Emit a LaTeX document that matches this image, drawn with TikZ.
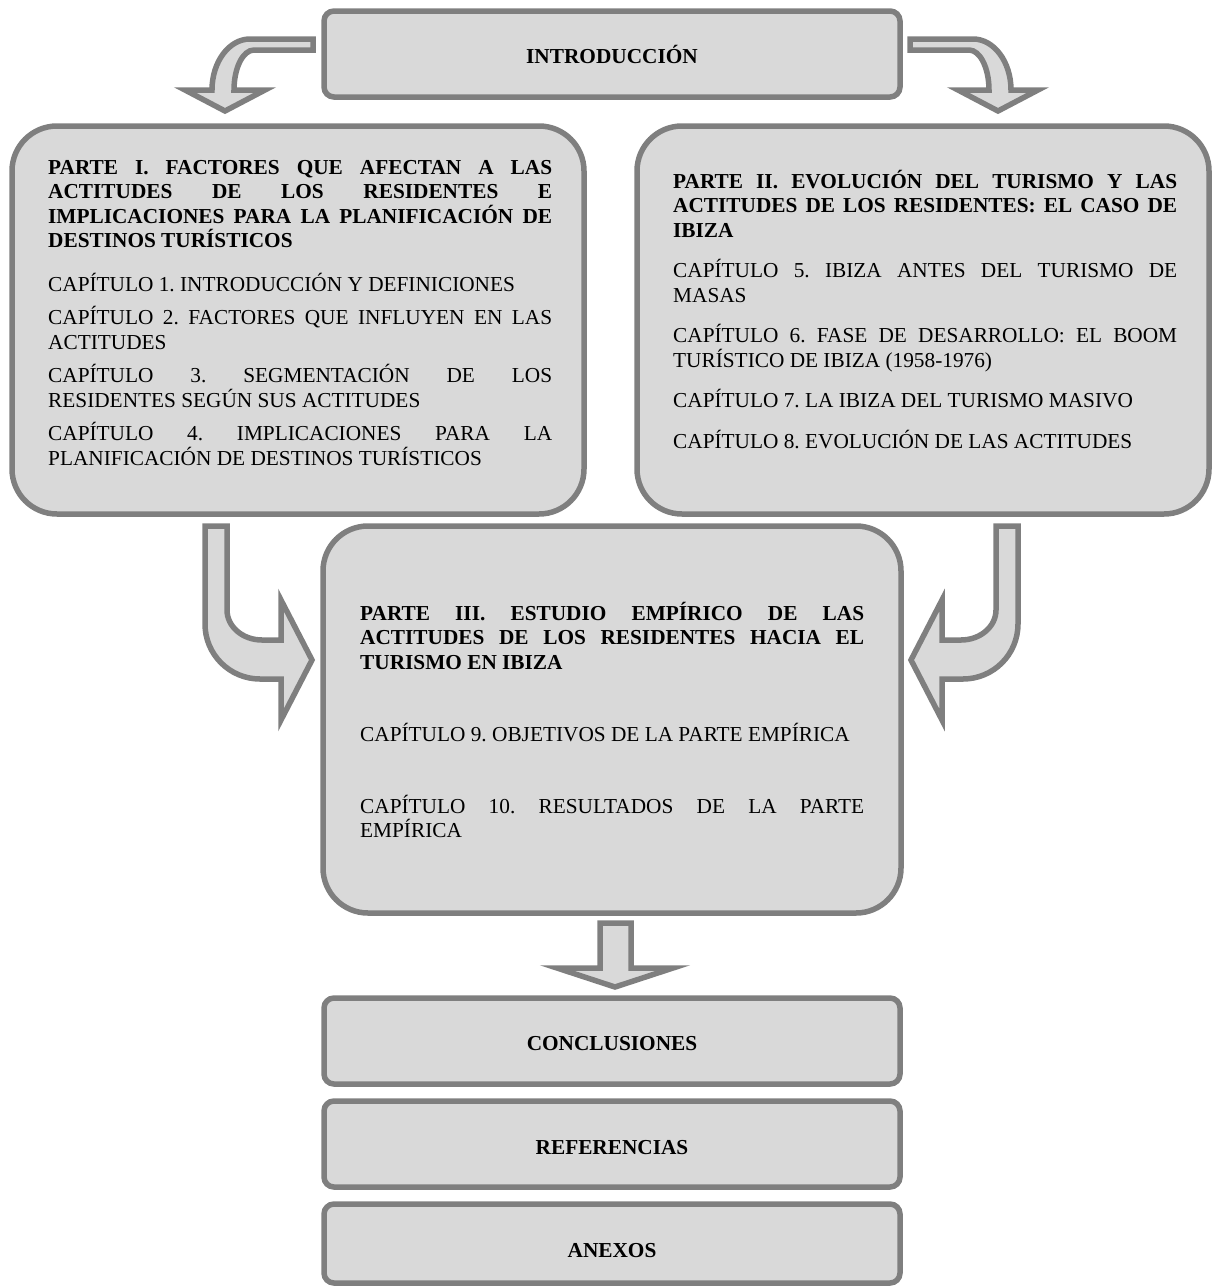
\documentclass[tikz,border=0pt]{standalone}
\usepackage{fontspec}
\setmainfont{Liberation Serif}
\frenchspacing
\hbadness=10000
\definecolor{boxfill}{HTML}{D9D9D9}
\definecolor{boxline}{HTML}{7F7F7F}
% one justified line / one ragged (last) line of a paragraph
\newcommand{\fullln}[1]{\hbox to \hsize{#1}}
\newcommand{\lastln}[1]{\hbox{#1}}
\begin{document}
\begin{tikzpicture}[x=1pt,y=1pt,
  every node/.style={font=\fontsize{21.3pt}{24.5pt}\selectfont, inner sep=0pt},
  block/.style={draw=boxline, fill=boxfill, line width=5.5pt},
  bigbox/.style={block, rounded corners=45pt, minimum width=572pt, minimum height=388pt},
  smallbox/.style={block, rounded corners=10pt, minimum width=576pt, minimum height=86pt},
  blockarrow/.style={draw=boxline, fill=boxfill, line width=5.5pt, line join=miter},
  label/.style={anchor=base, font=\fontsize{21.3pt}{24.5pt}\selectfont\bfseries},
  column/.style={anchor=base west}]
\useasboundingbox (0,0) rectangle (1213,-1288);

% boxes
\node[smallbox] (intro) at (612,-54) {};
\node[bigbox] (parte1) at (298,-320) {};
\node[bigbox] (parte2) at (923,-320) {};
\node[bigbox, minimum width=578pt, minimum height=387pt] (parte3) at (612,-719.5) {};
\node[smallbox] (concl) at (612,-1041) {};
\node[smallbox] (refs) at (612,-1144) {};
\node[smallbox, minimum height=79pt] (anex) at (612,-1243.5) {};

% curved block arrows from the introduction
\path[blockarrow] (313,-39) -- (250,-39)
  arc[start angle=90, end angle=180, x radius=38, y radius=51]
  -- (185,-90) -- (225,-111) -- (265,-90) -- (234,-90)
  arc[start angle=180, end angle=90, x radius=20, y radius=40]
  -- (313,-50) -- cycle;
\begin{scope}[xshift=1223pt, xscale=-1]
\path[blockarrow] (313,-39) -- (250,-39)
  arc[start angle=90, end angle=180, x radius=38, y radius=51]
  -- (185,-90) -- (225,-111) -- (265,-90) -- (234,-90)
  arc[start angle=180, end angle=90, x radius=20, y radius=40]
  -- (313,-50) -- cycle;
\end{scope}

% block arrows into part III
\path[blockarrow] (205,-526) -- (227,-526) -- (227,-610)
  arc[start angle=180, end angle=270, x radius=35, y radius=30]
  -- (281,-640) -- (281,-600) -- (312,-660) -- (281,-720) -- (281,-679) -- (260,-679)
  arc[start angle=270, end angle=180, x radius=55, y radius=55] -- cycle;
\begin{scope}[xshift=1223pt, xscale=-1]
\path[blockarrow] (205,-526) -- (227,-526) -- (227,-610)
  arc[start angle=180, end angle=270, x radius=35, y radius=30]
  -- (281,-640) -- (281,-600) -- (312,-660) -- (281,-720) -- (281,-679) -- (260,-679)
  arc[start angle=270, end angle=180, x radius=55, y radius=55] -- cycle;
\end{scope}

% straight block arrow down to the conclusions
\path[blockarrow] (600,-923) -- (631,-923) -- (631,-968) -- (673,-968)
  -- (615,-987) -- (557,-968) -- (600,-968) -- cycle;

% single-line titles
\node[label] (introtxt) at (612,-63) {INTRODUCCIÓN};
\node[label] (concltxt) at (612,-1050) {CONCLUSIONES};
\node[label] (refstxt) at (612,-1154) {REFERENCIAS};
\node[label] (anextxt) at (612,-1257) {ANEXOS};

% part I
\node[column] (p1txt) at (48,-174) {\vtop{\hsize=504pt
  \bfseries
  \fullln{PARTE I. FACTORES QUE AFECTAN A LAS}
  \fullln{ACTITUDES DE LOS RESIDENTES E}
  \fullln{IMPLICACIONES PARA LA PLANIFICACIÓN DE}
  \lastln{DESTINOS TURÍSTICOS}
  \mdseries
  \vskip 19pt
  \lastln{CAPÍTULO 1. INTRODUCCIÓN Y DEFINICIONES}
  \vskip 9pt
  \fullln{CAPÍTULO 2. FACTORES QUE INFLUYEN EN LAS}
  \lastln{ACTITUDES}
  \vskip 9pt
  \fullln{CAPÍTULO 3. SEGMENTACIÓN DE LOS}
  \lastln{RESIDENTES SEGÚN SUS ACTITUDES}
  \vskip 9pt
  \fullln{CAPÍTULO 4. IMPLICACIONES PARA LA}
  \lastln{PLANIFICACIÓN DE DESTINOS TURÍSTICOS}}};

% part II
\node[column] (p2txt) at (673,-188) {\vtop{\hsize=504pt
  \bfseries
  \fullln{PARTE II. EVOLUCIÓN DEL TURISMO Y LAS}
  \fullln{ACTITUDES DE LOS RESIDENTES: EL CASO DE}
  \lastln{IBIZA}
  \mdseries
  \vskip 16pt
  \fullln{CAPÍTULO 5. IBIZA ANTES DEL TURISMO DE}
  \lastln{MASAS}
  \vskip 16pt
  \fullln{CAPÍTULO 6. FASE DE DESARROLLO: EL BOOM}
  \lastln{TURÍSTICO DE IBIZA (1958-1976)}
  \vskip 16pt
  \lastln{CAPÍTULO 7. LA IBIZA DEL TURISMO MASIVO}
  \vskip 16pt
  \lastln{CAPÍTULO 8. EVOLUCIÓN DE LAS ACTITUDES}}};

% part III
\node[column] (p3txt) at (360,-620) {\vtop{\hsize=504pt
  \bfseries
  \fullln{PARTE III. ESTUDIO EMPÍRICO DE LAS}
  \fullln{ACTITUDES DE LOS RESIDENTES HACIA EL}
  \lastln{TURISMO EN IBIZA}
  \mdseries
  \vskip 47.5pt
  \lastln{CAPÍTULO 9. OBJETIVOS DE LA PARTE EMPÍRICA}
  \vskip 47.5pt
  \fullln{CAPÍTULO 10. RESULTADOS DE LA PARTE}
  \lastln{EMPÍRICA}}};
\end{tikzpicture}
\end{document}
